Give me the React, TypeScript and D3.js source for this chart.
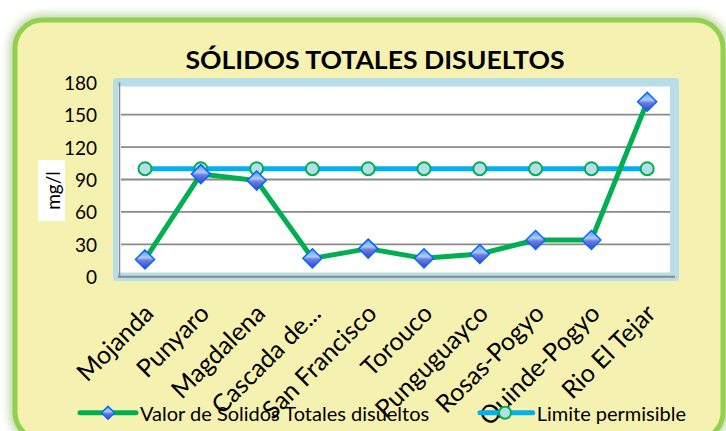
import React from "react";
import * as d3 from "d3";

const categories = [
  "Mojanda",
  "Punyaro",
  "Magdalena",
  "Cascada de...",
  "San Francisco",
  "Torouco",
  "Punguguayco",
  "Rosas-Pogyo",
  "Quinde-Pogyo",
  "Rio El Tejar",
];
const solidosValues = [16, 95, 89, 17, 26, 17, 21, 34, 34, 162];
const limiteValues = [100, 100, 100, 100, 100, 100, 100, 100, 100, 100];
const yTicks = [0, 30, 60, 90, 120, 150, 180];
const gridTicks = [30, 60, 90, 120, 150];
const seriesNames = ["Valor de Solidos Totales disueltos", "Limite permisible"];
const titleText = "SÓLIDOS TOTALES DISUELTOS";
const yAxisTitle = "mg/l";

const W = 726;
const H = 431;
const FONT = "Lato, 'Open Sans', sans-serif";

export default function App() {
  const x = d3
    .scalePoint<string>()
    .domain(categories)
    .range([117.1, 675.1])
    .padding(0.5);
  const y = d3.scaleLinear().domain([0, 180]).range([276.7, 82.3]);

  const line = d3
    .line<number>()
    .x((_, i) => x(categories[i]) as number)
    .y((v) => y(v));

  const diamond = (cx: number, cy: number, r: number) =>
    `M${cx},${cy - r}L${cx + r},${cy}L${cx},${cy + r}L${cx - r},${cy}Z`;

  return (
    <svg
      width={W}
      height={H}
      viewBox={`0 0 ${W} ${H}`}
      style={{ position: "absolute", left: 0, top: 0, display: "block" }}
      fontFamily={FONT}
    >
      <defs>
        <filter id="glow" x="-10%" y="-10%" width="120%" height="120%">
          <feGaussianBlur stdDeviation="5" />
        </filter>
        <linearGradient id="diamondFill" x1="0" y1="0" x2="0" y2="1">
          <stop offset="0%" stopColor="#5a98f0" />
          <stop offset="40%" stopColor="#a9cdf7" />
          <stop offset="55%" stopColor="#6d7fe0" />
          <stop offset="100%" stopColor="#3a3fc4" />
        </linearGradient>
      </defs>
      <rect x={0} y={0} width={W} height={H} fill="#ffffff" />
      {/* card shadow */}
      <rect
        x={15}
        y={20}
        width={708}
        height={420}
        rx={28}
        fill="none"
        stroke="#b8cf98"
        strokeWidth={10}
        filter="url(#glow)"
      />
      {/* card */}
      <rect
        x={15}
        y={20}
        width={708}
        height={420}
        rx={28}
        fill="#f5f1b1"
        stroke="#92d050"
        strokeWidth={5}
      />
      {/* title */}
      <text
        x={375}
        y={68.5}
        textAnchor="middle"
        fontSize={25.5}
        fontWeight={700}
        fill="#000"
        textLength={379}
        lengthAdjust="spacingAndGlyphs"
      >
        {titleText}
      </text>
      {/* plot frame */}
      <rect x={113} y={78} width={566} height={203} rx={4} fill="#b7dde8" />
      <rect x={118} y={86.5} width={552} height={186} fill="#ffffff" />
      {/* gridlines */}
      {gridTicks.map((t) => (
        <line
          key={t}
          x1={121}
          x2={670}
          y1={y(t)}
          y2={y(t)}
          stroke="#8a8a8a"
          strokeWidth={1.8}
        />
      ))}
      {/* axes */}
      <line x1={119.5} x2={119.5} y1={y(180)} y2={y(0)} stroke="#8a8a8a" strokeWidth={1.5} />
      <line x1={118} x2={675} y1={y(0)} y2={y(0)} stroke="#8a8a8a" strokeWidth={2} />
      {/* y tick labels */}
      {yTicks.map((t) => (
        <text
          key={t}
          x={97}
          y={y(t)}
          textAnchor="end"
          dominantBaseline="central"
          fontSize={19}
          fill="#000"
        >
          {t}
        </text>
      ))}
      {/* y axis title */}
      <rect x={38} y={160} width={27} height={61} fill="#ffffff" />
      <text
        transform="translate(52,190.5) rotate(-90)"
        textAnchor="middle"
        dominantBaseline="central"
        fontSize={19}
        fill="#000"
      >
        {yAxisTitle}
      </text>
      {/* x labels */}
      {categories.map((c) => (
        <text
          key={c}
          transform={`translate(${(x(c) as number) + 3},308) rotate(-45)`}
          textAnchor="end"
          dominantBaseline="central"
          fontSize={25}
          fill="#000"
        >
          {c}
        </text>
      ))}
      {/* limit series */}
      <path d={line(limiteValues) || ""} fill="none" stroke="#00b0f0" strokeWidth={5} />
      {limiteValues.map((v, i) => (
        <circle
          key={i}
          cx={x(categories[i]) as number}
          cy={y(v)}
          r={6.5}
          fill="#b7dde8"
          stroke="#00b050"
          strokeWidth={2}
        />
      ))}
      {/* solidos series */}
      <path
        d={line(solidosValues) || ""}
        fill="none"
        stroke="#00b050"
        strokeWidth={5}
        strokeLinejoin="round"
      />
      {solidosValues.map((v, i) => (
        <path
          key={i}
          d={diamond(x(categories[i]) as number, y(v), 9.5)}
          fill="url(#diamondFill)"
          stroke="#0a64ff"
          strokeWidth={1.5}
        />
      ))}
      {/* legend */}
      <line x1={80} x2={136} y1={412.7} y2={412.7} stroke="#00b050" strokeWidth={5} strokeLinecap="round" />
      <path d={diamond(108, 412.7, 6.5)} fill="url(#diamondFill)" stroke="#0a64ff" strokeWidth={1.5} />
      <text x={140} y={412.7} dominantBaseline="central" fontSize={20} fill="#000">
        {seriesNames[0]}
      </text>
      <line x1={480} x2={532.7} y1={412.7} y2={412.7} stroke="#00b0f0" strokeWidth={5} strokeLinecap="round" />
      <circle cx={505} cy={412.7} r={6} fill="#b7dde8" stroke="#00b050" strokeWidth={2} />
      <text x={536.7} y={412.7} dominantBaseline="central" fontSize={20} fill="#000">
        {seriesNames[1]}
      </text>
    </svg>
  );
}
